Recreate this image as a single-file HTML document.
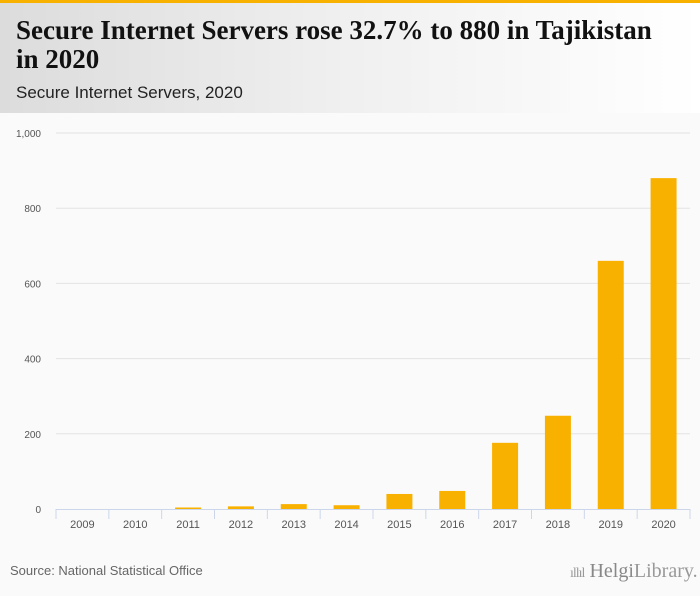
<!DOCTYPE html>
<html><head><meta charset="utf-8"><style>
body{margin:0;width:700px;height:596px;background:#fafafa;font-family:"Liberation Sans",sans-serif;overflow:hidden;position:relative}
#hdr{position:absolute;left:0;top:0;width:700px;height:113px;background:linear-gradient(90deg,#dcdcdc 0%,#f0f0f0 50%,#fff 100%);border-top:3px solid #f9b100;box-sizing:border-box}
#title{position:absolute;left:16px;top:13px;width:650px;font-family:"Liberation Serif",serif;font-weight:bold;font-size:27px;line-height:29px;color:#111}
#sub{position:absolute;left:16px;top:80px;font-size:17px;color:#222}
#src{position:absolute;left:10px;top:563px;font-size:13px;color:#666}
#logo{position:absolute;left:570px;top:560px;font-family:"Liberation Serif",serif;font-size:20px;color:#999}
</style></head><body>
<div id="hdr">
<div id="title">Secure Internet Servers rose 32.7% to 880 in Tajikistan in 2020</div>
<div id="sub">Secure Internet Servers, 2020</div>
</div>
<svg id="chart" width="700" height="596" style="position:absolute;left:0;top:0"></svg>
<div id="src">Source: National Statistical Office</div>
<div id="logo"><span style="font-size:14px;letter-spacing:-1px">ıllıl</span> <b style="font-weight:normal;color:#888">Helgi</b>Library.</div>
<script>
const categories=["2009","2010","2011","2012","2013","2014","2015","2016","2017","2018","2019","2020"];
const values=[0,0,4,7,13,10,40,48,176,248,660,880];
const yTicks=[0,200,400,600,800,1000];
const yTickLabels=["0","200","400","600","800","1,000"];
const svg=document.getElementById('chart');
const NS='http://www.w3.org/2000/svg';
const x0=56,x1=690,y0=509,y1=133,yMax=1000;
const bw=(x1-x0)/categories.length;
const y=v=>y0-(v/yMax)*(y0-y1);
const xc=i=>x0+bw*(i+0.5);
function mk(t,a){const e=document.createElementNS(NS,t);for(const k in a)e.setAttribute(k,a[k]);svg.appendChild(e);return e;}
yTicks.forEach((t,i)=>{
 if(t>0){const g=mk('line',{x1:x0,x2:x1,y1:y(t),y2:y(t),stroke:'#e3e3e3','stroke-width':1});
 
 }
 const l=mk('text',{x:41,y:y(t)+4,'text-anchor':'end','font-size':10,fill:'#555','font-family':'Liberation Sans, sans-serif'});
 l.textContent=yTickLabels[i];
 
 
});
values.forEach((v,i)=>{
 const r=mk('rect',{x:xc(i)-13,y:y(v),width:26,height:y0-y(v),fill:'#f9b100'});
 
 
 const l=mk('text',{x:xc(i),y:528,'text-anchor':'middle','font-size':11,fill:'#555','font-family':'Liberation Sans, sans-serif'});
 l.textContent=categories[i];
 
 
});
const ax=mk('line',{x1:x0,x2:x1,y1:y0+0.5,y2:y0+0.5,stroke:'#ccd6eb','stroke-width':1});


for(let i=0;i<=categories.length;i++){
 const t=mk('line',{x1:x0+bw*i,x2:x0+bw*i,y1:y0,y2:y0+10,stroke:'#ccd6eb','stroke-width':1});
 
 
}
</script>
</body></html>
